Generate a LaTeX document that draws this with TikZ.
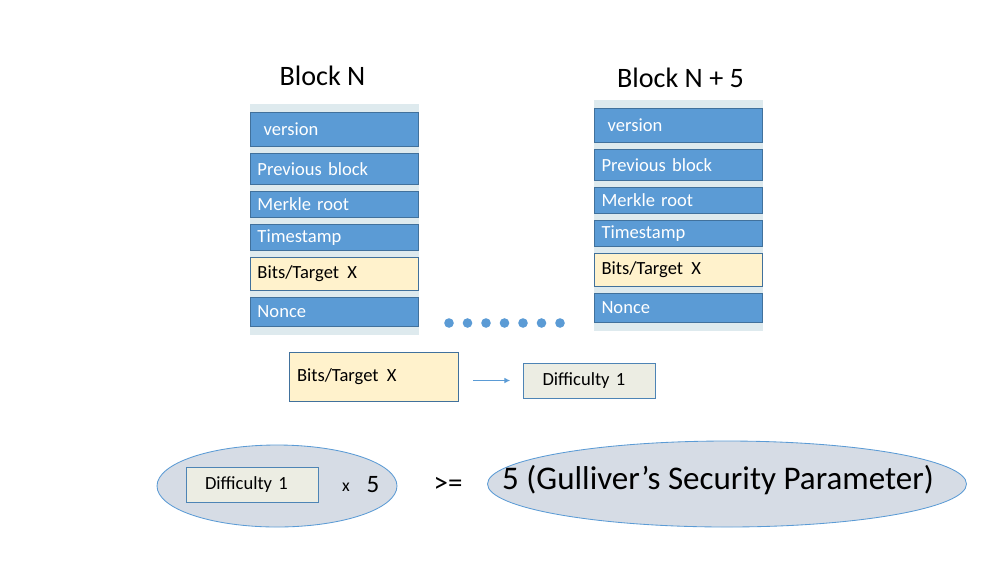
\documentclass[tikz,border=0pt]{standalone}
\usepackage{fontspec}
\setmainfont{Carlito}
\usepackage{xcolor}
\usepackage{tikz}
\usetikzlibrary{shapes.geometric,arrows.meta,positioning,fit,backgrounds}

\definecolor{fieldblue}{HTML}{5B9BD5}
\definecolor{fieldline}{HTML}{41719C}
\definecolor{bitsyellow}{HTML}{FFF2CC}
\definecolor{stackgrey}{HTML}{DEEAEE}
\definecolor{ovalgrey}{HTML}{D6DCE5}
\definecolor{diffpale}{HTML}{ECEDE3}

\begin{document}
\begin{tikzpicture}[
    node distance=0.15cm,
    field/.style={rectangle, draw=fieldline, fill=fieldblue, line width=0.7pt, text=white, minimum width=4.2cm, text width=3.85cm, inner xsep=0.175cm, inner ysep=1pt, align=left, font=\fontsize{13.2pt}{15pt}\selectfont},
    bitsfield/.style={field, fill=bitsyellow, text=black},
    title/.style={inner sep=0pt, font=\fontsize{20pt}{24pt}\selectfont},
    stackbg/.style={rectangle, fill=stackgrey, inner xsep=0pt, inner ysep=0.19cm},
    dot/.style={circle, fill=fieldblue, minimum size=0.24cm, inner sep=0pt},
    diffbox/.style={rectangle, draw=fieldblue!85!black, fill=diffpale, line width=0.6pt, minimum width=3.3cm, minimum height=0.875cm, text width=2.35cm, inner xsep=0.475cm, align=left, font=\fontsize{13.2pt}{15pt}\selectfont},
    oval/.style={ellipse, draw=fieldblue, fill=ovalgrey, line width=0.6pt, inner sep=0pt},
    arrow/.style={-{Latex[length=4pt,width=4pt]}, draw=fieldblue, line width=0.6pt}
]
    \useasboundingbox (0,0) rectangle (25,-14.075);

    % Block N
    \node[field, anchor=north west, minimum height=0.85cm] (verN) at (6.25,-2.8) {~version};
    \node[field, below=of verN, minimum height=0.775cm] (prevN) {Previous block};
    \node[field, below=of prevN, minimum height=0.65cm] (merkN) {Merkle root};
    \node[field, below=of merkN, minimum height=0.65cm] (timeN) {Timestamp};
    \node[bitsfield, below=of timeN, minimum height=0.825cm] (bitsN) {Bits/Target\hspace{0.45em}X};
    \node[field, below=of bitsN, minimum height=0.725cm] (nonceN) {Nonce};
    \node[title, above=0.65cm of verN, xshift=-0.3cm] (titleN) {Block N};

    % Block N + 5
    \node[field, anchor=north west, minimum height=0.85cm] (verM) at (14.85,-2.7) {~version};
    \node[field, below=of verM, minimum height=0.775cm] (prevM) {Previous block};
    \node[field, below=of prevM, minimum height=0.65cm] (merkM) {Merkle root};
    \node[field, below=of merkM, minimum height=0.65cm] (timeM) {Timestamp};
    \node[bitsfield, below=of timeM, minimum height=0.825cm] (bitsM) {Bits/Target\hspace{0.45em}X};
    \node[field, below=of bitsM, minimum height=0.725cm] (nonceM) {Nonce};
    \node[title, above=0.5cm of verM, xshift=0.05cm] (titleM) {Block N + 5};

    \begin{scope}[on background layer]
        \node[stackbg, fit=(verN)(nonceN)] (stackN) {};
        \node[stackbg, fit=(verM)(nonceM)] (stackM) {};
    \end{scope}

    % Dots between the blocks
    \foreach \i in {0,...,6}
        \node[dot] (dot\i) at ({11.225+0.4625*\i},-8.075) {};

    % Target to difficulty
    \node[bitsfield, minimum width=4.225cm, text width=3.825cm, inner xsep=0.2cm, minimum height=1.225cm] (bits) at (9.3375,-9.4125) {Bits/Target\hspace{0.45em}X};
    \node[diffbox] (diff) at (14.7375,-9.5125) {Difficulty 1};
    \draw[arrow, shorten <=0.375cm, shorten >=0.325cm] (bits.east |- diff.west) -- (diff.west);

    % Security parameter
    \node[oval, minimum width=6cm, minimum height=2.05cm] (leftoval) at (6.925,-12.15) {};
    \node[diffbox] (diffx) at (6.3,-12.1125) {Difficulty 1};
    \node[font=\fontsize{12.6pt}{15pt}\selectfont] (times) at (8.65,-12.175) {x};
    \node[font=\fontsize{17.8pt}{21pt}\selectfont] (five) at (9.325,-12.125) {5};
    \node[font=\fontsize{20.6pt}{24pt}\selectfont] (geq) at (11.2,-12.125) {>=};
    \node[oval, minimum width=11.975cm, minimum height=2.15cm] (rightoval) at (18.175,-12.1) {};
    \node[font=\fontsize{23.5pt}{28pt}\selectfont] (param) at (17.95,-12.0) {5 (Gulliver’s Security Parameter)};
\end{tikzpicture}
\end{document}
